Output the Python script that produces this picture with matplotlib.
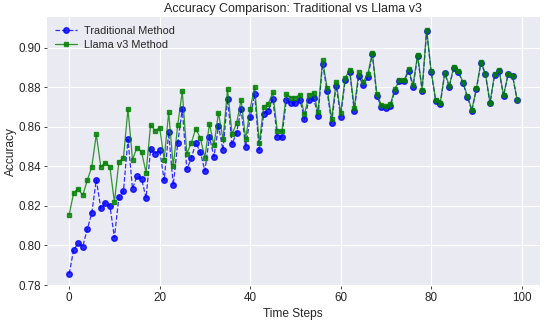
import matplotlib
matplotlib.use("Agg")
import matplotlib.pyplot as plt
import numpy as np

time_steps = list(range(100))

traditional = [
    0.7857, 0.7979, 0.8012, 0.7994, 0.8082, 0.8163, 0.8332, 0.8187, 0.8216, 0.8202,
    0.8040, 0.8246, 0.8275, 0.8536, 0.8287, 0.8351, 0.8336, 0.8241, 0.8487, 0.8464,
    0.8482, 0.8329, 0.8571, 0.8305, 0.8519, 0.8690, 0.8385, 0.8441, 0.8520, 0.8470,
    0.8377, 0.8549, 0.8448, 0.8605, 0.8482, 0.8741, 0.8512, 0.8570, 0.8690, 0.8497,
    0.8647, 0.8764, 0.8482, 0.8666, 0.8681, 0.8742, 0.8546, 0.8546, 0.8737, 0.8720,
    0.8722, 0.8737, 0.8639, 0.8737, 0.8746, 0.8654, 0.8919, 0.8781, 0.8619, 0.8808,
    0.8651, 0.8837, 0.8878, 0.8680, 0.8856, 0.8810, 0.8851, 0.8966, 0.8753, 0.8702,
    0.8695, 0.8707, 0.8783, 0.8832, 0.8830, 0.8881, 0.8803, 0.8956, 0.8783, 0.9086,
    0.8876, 0.8730, 0.8713, 0.8869, 0.8802, 0.8899, 0.8876, 0.8823, 0.8749, 0.8682,
    0.8791, 0.8923, 0.8864, 0.8718, 0.8860, 0.8882, 0.8755, 0.8864, 0.8854, 0.8734,
]

llama_v3 = [
    0.8155, 0.8266, 0.8287, 0.8253, 0.8329, 0.8397, 0.8561, 0.8397, 0.8419, 0.8397,
    0.8220, 0.8424, 0.8442, 0.8690, 0.8434, 0.8495, 0.8473, 0.8368, 0.8610, 0.8580,
    0.8595, 0.8434, 0.8673, 0.8400, 0.8609, 0.8779, 0.8464, 0.8519, 0.8591, 0.8541,
    0.8444, 0.8615, 0.8507, 0.8670, 0.8536, 0.8790, 0.8563, 0.8617, 0.8736, 0.8538,
    0.8690, 0.8803, 0.8517, 0.8702, 0.8715, 0.8773, 0.8580, 0.8576, 0.8764, 0.8747,
    0.8747, 0.8762, 0.8663, 0.8761, 0.8771, 0.8675, 0.8935, 0.8798, 0.8637, 0.8827,
    0.8668, 0.8847, 0.8888, 0.8695, 0.8874, 0.8828, 0.8868, 0.8974, 0.8763, 0.8710,
    0.8703, 0.8715, 0.8792, 0.8837, 0.8834, 0.8890, 0.8812, 0.8964, 0.8788, 0.9091,
    0.8881, 0.8736, 0.8722, 0.8873, 0.8807, 0.8903, 0.8880, 0.8827, 0.8755, 0.8686,
    0.8795, 0.8927, 0.8868, 0.8722, 0.8864, 0.8886, 0.8759, 0.8866, 0.8858, 0.8737,
]

plt.style.use("seaborn-v0_8-darkgrid")
plt.rcParams['font.family'] = ['Liberation Sans', 'DejaVu Sans']

fig = plt.figure(figsize=(5.5, 3.21), dpi=100)
ax = fig.add_axes([0.085, 0.109, 0.896, 0.837])

ax.plot(time_steps, traditional, 'o--', color='blue', alpha=0.8, linewidth=0.9,
        markersize=4.0, label='Traditional Method')
ax.plot(time_steps, llama_v3, 's-', color='green', alpha=0.8, linewidth=0.9,
        markersize=3.5, label='Llama v3 Method')

ax.set_title('Accuracy Comparison: Traditional vs Llama v3', fontsize=9, color='0.15', pad=4)
ax.set_xlabel('Time Steps', fontsize=8.6, color='0.15', labelpad=3)
ax.set_ylabel('Accuracy', fontsize=8.6, color='0.15', labelpad=1)
ax.tick_params(axis='both', labelsize=8.4, colors='0.15', length=2, width=0.6, pad=2)
ax.set_xticks([0, 20, 40, 60, 80, 100])
ax.set_yticks([0.78, 0.80, 0.82, 0.84, 0.86, 0.88, 0.90])
ax.set_yticklabels([f"{v:.2f}" for v in [0.78, 0.80, 0.82, 0.84, 0.86, 0.88, 0.90]])
ax.legend(loc='upper left', fontsize=7.8, frameon=False, borderaxespad=0.4,
          handletextpad=0.6, labelspacing=0.35)

fig.savefig('out.png', dpi=100)
